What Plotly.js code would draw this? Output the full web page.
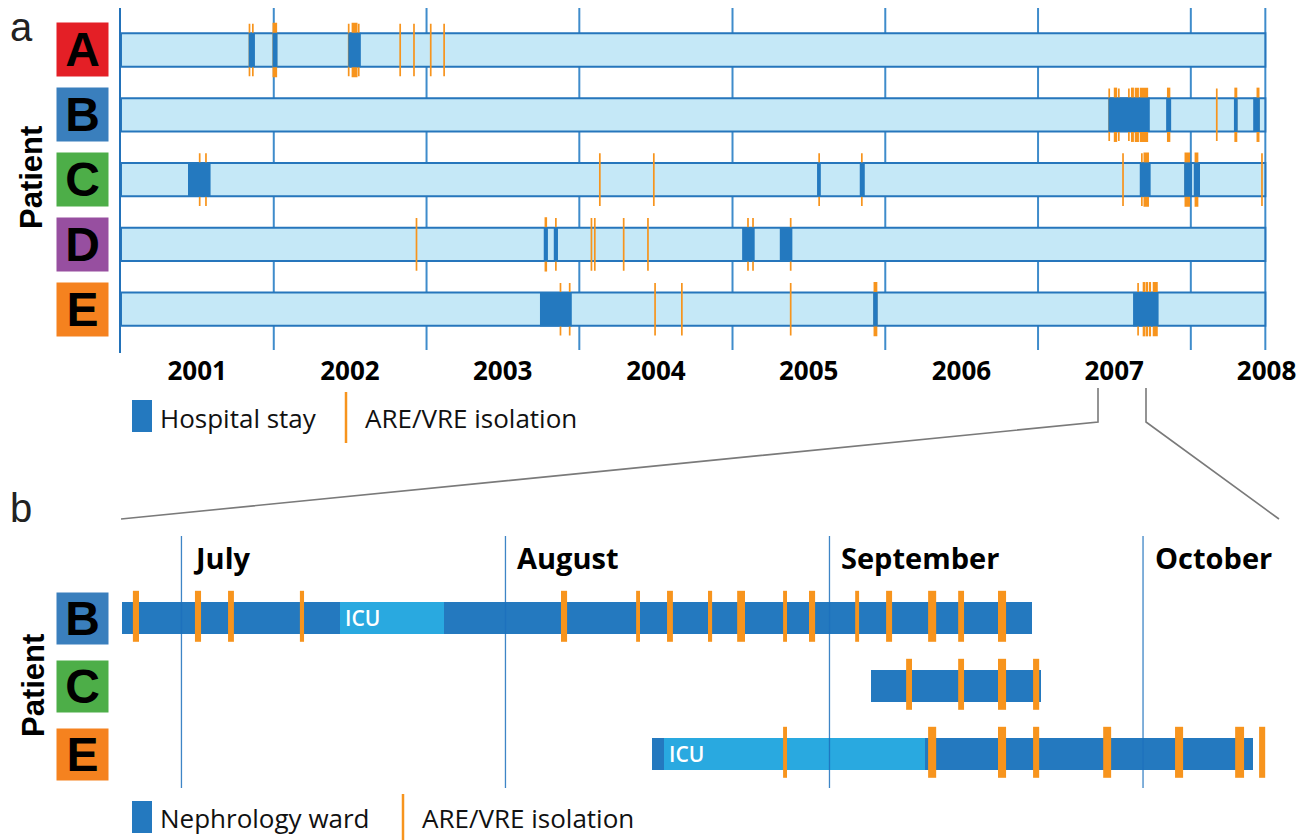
<!DOCTYPE html>
<html>
<head>
<meta charset="utf-8">
<script src="https://cdn.plot.ly/plotly-3.0.1.min.js"></script>
<style>
html,body{margin:0;padding:0;background:#ffffff;}
#chart{width:1306px;height:840px;}
</style>
</head>
<body>
<div id="chart"></div>
<script>
// ================= DATA: panel a (whole follow-up) =================
const patientsA = ['A', 'B', 'C', 'D', 'E'];
const followStart = '2001-01-01';
const followEnd = '2008-06-27';
const yearTickDates = ['2001-07-02', '2002-07-02', '2003-07-02', '2004-07-02', '2005-07-02', '2006-07-02', '2007-07-02', '2008-06-30'];
const yearTickText = ['2001', '2002', '2003', '2004', '2005', '2006', '2007', '2008'];
const yearStarts = ['2002-01-01', '2003-01-01', '2004-01-01', '2005-01-01', '2006-01-01', '2007-01-01', '2008-01-01'];

// hospital stays
const stayPatient = ['A', 'A', 'A',
  'B', 'B', 'B', 'B',
  'C', 'C', 'C', 'C', 'C', 'C',
  'D', 'D', 'D', 'D',
  'E', 'E', 'E'];
const stayStart = ['2001-11-02', '2001-12-29', '2002-06-28',
  '2007-06-18', '2007-11-03', '2008-04-13', '2008-05-29',
  '2001-06-10', '2005-07-22', '2005-11-01', '2007-09-01', '2007-12-16', '2008-01-08',
  '2003-10-08', '2003-11-01', '2005-01-24', '2005-04-24',
  '2003-09-29', '2005-12-03', '2007-08-16'];
const stayEnd = ['2001-11-17', '2002-01-10', '2002-07-28',
  '2007-09-25', '2007-11-15', '2008-04-22', '2008-06-14',
  '2001-08-03', '2005-07-31', '2005-11-13', '2007-09-27', '2008-01-04', '2008-01-23',
  '2003-10-18', '2003-11-11', '2005-02-23', '2005-05-24',
  '2003-12-14', '2005-12-14', '2007-10-16'];

// ARE/VRE isolation periods
const isoPatient = ['A', 'A', 'A', 'A', 'A', 'A', 'A', 'A', 'A', 'A',
  'B', 'B', 'B', 'B', 'B', 'B', 'B', 'B', 'B', 'B', 'B',
  'C', 'C', 'C', 'C', 'C', 'C', 'C', 'C', 'C', 'C', 'C', 'C',
  'D', 'D', 'D', 'D', 'D', 'D', 'D', 'D', 'D', 'D',
  'E', 'E', 'E', 'E', 'E', 'E', 'E', 'E', 'E', 'E', 'E'];
const isoStart = ['2001-11-04', '2001-11-12', '2001-12-31', '2002-06-29', '2002-07-08', '2002-07-23', '2002-10-30', '2002-12-02', '2003-01-11', '2003-02-12',
  '2007-06-20', '2007-07-03', '2007-07-13', '2007-08-06', '2007-08-13', '2007-08-22', '2007-09-03', '2007-11-07', '2008-03-03', '2008-04-16', '2008-06-08',
  '2001-07-08', '2001-07-23', '2004-02-19', '2004-06-27', '2005-07-27', '2005-11-06', '2007-07-23', '2007-09-06', '2007-09-12', '2007-12-19', '2008-01-12', '2008-06-19',
  '2002-12-08', '2003-10-12', '2003-11-06', '2004-01-30', '2004-02-07', '2004-04-16', '2004-06-13', '2005-02-07', '2005-02-19', '2005-05-20',
  '2003-11-17', '2003-12-09', '2004-06-30', '2004-09-02', '2005-05-20', '2005-12-06', '2007-08-28', '2007-09-10', '2007-09-17', '2007-09-25', '2007-10-04'];
const isoEnd = ['2001-11-04', '2001-11-12', '2002-01-07', '2002-06-29', '2002-07-18', '2002-07-23', '2002-10-30', '2002-12-02', '2003-01-11', '2003-02-12',
  '2007-06-20', '2007-07-07', '2007-07-13', '2007-08-06', '2007-08-16', '2007-08-28', '2007-09-19', '2007-11-11', '2008-03-03', '2008-04-19', '2008-06-11',
  '2001-07-08', '2001-07-23', '2004-02-19', '2004-06-27', '2005-07-27', '2005-11-06', '2007-07-23', '2007-09-06', '2007-09-21', '2007-12-28', '2008-01-17', '2008-06-19',
  '2002-12-08', '2003-10-14', '2003-11-06', '2004-01-30', '2004-02-07', '2004-04-16', '2004-06-13', '2005-02-07', '2005-02-19', '2005-05-20',
  '2003-11-17', '2003-12-09', '2004-06-30', '2004-09-02', '2005-05-20', '2005-12-11', '2007-08-28', '2007-09-12', '2007-09-19', '2007-09-26', '2007-10-12'];

// ================= DATA: panel b (summer / autumn 2007) =================
const patientsB = ['B', 'C', 'E'];
const rangeB = ['2007-06-25 07:30', '2007-10-14 02:30'];
const monthNames = ['July', 'August', 'September', 'October'];
const monthStarts = ['2007-07-01', '2007-08-01', '2007-09-01', '2007-10-01'];

const wardPatient = ['B', 'C', 'E'];
const wardStart = ['2007-06-20 00:00', '2007-09-05 00:00', '2007-08-15 00:00'];
const wardEnd = ['2007-09-20 09:00', '2007-09-21 06:00', '2007-10-11 12:00'];

const icuPatient = ['B', 'E'];
const icuStart = ['2007-07-16 04:00', '2007-08-16 04:00'];
const icuEnd = ['2007-07-26 03:00', '2007-09-10 03:30'];

const isoBPatient = ['B', 'B', 'B', 'B', 'B', 'B', 'B', 'B', 'B', 'B', 'B', 'B', 'B', 'B', 'B', 'B',
  'C', 'C', 'C', 'C',
  'E', 'E', 'E', 'E', 'E', 'E', 'E', 'E'];
const isoBStart = ['2007-06-26 08:30', '2007-07-02 07:00', '2007-07-05 11:00', '2007-07-12 08:00', '2007-08-06 07:30', '2007-08-13 12:00', '2007-08-16 11:00', '2007-08-20 09:00', '2007-08-23 04:00', '2007-08-27 13:30', '2007-08-30 01:00', '2007-09-03 11:00', '2007-09-06 10:00', '2007-09-10 10:30', '2007-09-13 07:30', '2007-09-17 03:00',
  '2007-09-08 08:00', '2007-09-13 07:30', '2007-09-17 03:00', '2007-09-20 11:30',
  '2007-08-27 13:30', '2007-09-10 10:30', '2007-09-17 03:00', '2007-09-20 11:30', '2007-09-27 04:30', '2007-10-04 01:30', '2007-10-09 19:30', '2007-10-12 02:30'];
const isoBEnd = ['2007-06-26 22:30', '2007-07-02 21:00', '2007-07-06 00:30', '2007-07-12 17:30', '2007-08-06 21:30', '2007-08-13 21:00', '2007-08-17 00:30', '2007-08-20 18:30', '2007-08-23 22:00', '2007-08-27 22:30', '2007-08-30 15:00', '2007-09-03 20:00', '2007-09-06 23:45', '2007-09-11 05:00', '2007-09-13 21:00', '2007-09-17 21:30',
  '2007-09-08 21:30', '2007-09-13 21:00', '2007-09-17 21:30', '2007-09-21 01:30',
  '2007-08-27 22:30', '2007-09-11 05:00', '2007-09-17 21:30', '2007-09-21 01:30', '2007-09-27 22:45', '2007-10-04 20:00', '2007-10-10 16:00', '2007-10-12 16:30'];

// ================= STYLE =================
const W = 1306, H = 840;
const px = v => v / W;
const py = v => 1 - v / H;
const boxColor = {A: '#e41f26', B: '#3a7fbd', C: '#4dae48', D: '#974fa0', E: '#f5821f'};
const LIGHT = '#c5e8f7', DARK = '#2479bf', ICU = '#29a9e0', ORANGE = '#f7941d', EDGE = '#2676bc';
const FONT = 'Open Sans, Noto Sans, sans-serif';
const ARIAL = 'Liberation Sans, Arial, sans-serif';

const ms = s => Date.parse(s.replace(' ', 'T') + (s.length > 10 ? ':00Z' : 'T00:00:00Z'));
const rowA = p => patientsA.indexOf(p);
const rowB = p => patientsB.indexOf(p);

// ================= TRACES =================
const traces = [];
// panel a: follow-up timelines (light blue bars)
traces.push({
  type: 'bar', orientation: 'h', xaxis: 'x', yaxis: 'y',
  y: patientsA.map((p, i) => i),
  base: patientsA.map(() => followStart),
  x: patientsA.map(() => ms(followEnd) - ms(followStart)),
  width: 0.514,
  marker: {color: LIGHT, line: {color: EDGE, width: 2}},
  hoverinfo: 'skip'
});
// panel b: nephrology ward stays
traces.push({
  type: 'bar', orientation: 'h', xaxis: 'x2', yaxis: 'y2',
  y: wardPatient.map(rowB),
  base: wardStart,
  x: wardStart.map((s, i) => ms(wardEnd[i]) - ms(s)),
  width: 0.485,
  marker: {color: DARK, line: {width: 0}},
  hoverinfo: 'skip'
});
// panel b: ICU stays
traces.push({
  type: 'bar', orientation: 'h', xaxis: 'x2', yaxis: 'y2',
  y: icuPatient.map(rowB),
  base: icuStart,
  x: icuStart.map((s, i) => ms(icuEnd[i]) - ms(s)),
  width: 0.485,
  marker: {color: ICU, line: {width: 0}},
  hoverinfo: 'skip'
});

// ================= SHAPES =================
const shapes = [];
// panel a year gridlines (behind bars)
yearStarts.concat([followEnd]).forEach(d => shapes.push({
  type: 'line', layer: 'below', xref: 'x', yref: 'paper',
  x0: d, x1: d, y0: py(350), y1: py(8),
  line: {color: '#3f8ccb', width: 2}
}));
// panel a isolation
isoPatient.forEach((p, i) => shapes.push({
  type: 'rect', layer: 'above', xref: 'x', yref: 'y',
  x0: isoStart[i], x1: isoEnd[i], y0: rowA(p) - 0.406, y1: rowA(p) + 0.406,
  fillcolor: ORANGE, line: {color: ORANGE, width: 1.7}
}));
// panel a hospital stays
stayPatient.forEach((p, i) => shapes.push({
  type: 'rect', layer: 'above', xref: 'x', yref: 'y',
  x0: stayStart[i], x1: stayEnd[i], y0: rowA(p) - 0.266, y1: rowA(p) + 0.266,
  fillcolor: DARK, line: {width: 0}
}));
// panel b month gridlines (over bars)
monthStarts.forEach(d => shapes.push({
  type: 'line', layer: 'above', xref: 'x2', yref: 'paper',
  x0: d, x1: d, y0: py(788), y1: py(536),
  line: {color: 'rgba(28,112,188,0.85)', width: 1.3}
}));
// panel b isolation
isoBPatient.forEach((p, i) => shapes.push({
  type: 'rect', layer: 'above', xref: 'x2', yref: 'y2',
  x0: isoBStart[i], x1: isoBEnd[i], y0: rowB(p) - 0.40, y1: rowB(p) + 0.35,
  fillcolor: ORANGE, line: {width: 0}
}));
// legend swatches
shapes.push({type: 'rect', xref: 'paper', yref: 'paper', x0: px(132), x1: px(152), y0: py(432), y1: py(400), fillcolor: DARK, line: {width: 0}});
shapes.push({type: 'line', xref: 'paper', yref: 'paper', x0: px(346), x1: px(346), y0: py(443), y1: py(392), line: {color: ORANGE, width: 2.5}});
shapes.push({type: 'rect', xref: 'paper', yref: 'paper', x0: px(132), x1: px(152), y0: py(833), y1: py(801), fillcolor: DARK, line: {width: 0}});
shapes.push({type: 'line', xref: 'paper', yref: 'paper', x0: px(403), x1: px(403), y0: py(840), y1: py(794), line: {color: ORANGE, width: 2.5}});
// zoom connectors
shapes.push({type: 'path', xref: 'paper', yref: 'paper',
  path: `M ${px(1098)},${py(388)} L ${px(1098)},${py(422)} L ${px(121)},${py(519)}`,
  line: {color: '#7a7a7a', width: 1.6}});
shapes.push({type: 'path', xref: 'paper', yref: 'paper',
  path: `M ${px(1146)},${py(388)} L ${px(1146)},${py(422)} L ${px(1279)},${py(519)}`,
  line: {color: '#7a7a7a', width: 1.6}});

// ================= ANNOTATIONS =================
const ann = [];
const txt = (text, x, y, opt) => Object.assign({text, x, y, xref: 'paper', yref: 'paper', showarrow: false, xanchor: 'left', yanchor: 'middle'}, opt || {});
ann.push(txt('a', px(8), py(27), {font: {family: ARIAL, size: 40, color: '#222'}}));
ann.push(txt('b', px(8), py(508), {font: {family: ARIAL, size: 40, color: '#222'}}));
ann.push(txt('Patient', px(31), py(178), {xanchor: 'center', textangle: -90, font: {family: ARIAL, size: 31, color: '#000', weight: 'bold'}}));
ann.push(txt('Patient', px(33), py(686), {xanchor: 'center', textangle: -90, font: {family: ARIAL, size: 31, color: '#000', weight: 'bold'}}));
patientsA.forEach((p, i) => ann.push({
  text: p, x: px(82.5), xref: 'paper', y: i, yref: 'y', showarrow: false,
  xanchor: 'center', yanchor: 'middle', width: 51, height: 53, borderpad: 0,
  bgcolor: boxColor[p], font: {family: ARIAL, size: 48, color: '#000', weight: 'bold'}
}));
patientsB.forEach((p, i) => ann.push({
  text: p, x: px(82.5), xref: 'paper', y: i, yref: 'y2', showarrow: false,
  xanchor: 'center', yanchor: 'middle', width: 51, height: 51, borderpad: 0,
  bgcolor: boxColor[p], font: {family: ARIAL, size: 48, color: '#000', weight: 'bold'}
}));
monthNames.forEach((m, i) => ann.push({
  text: m, x: monthStarts[i], xref: 'x2', y: py(557), yref: 'paper', showarrow: false,
  xanchor: 'left', yanchor: 'middle', xshift: 10,
  font: {family: FONT, size: 29, color: '#000', weight: 'bold'}
}));
icuPatient.forEach((p, i) => ann.push({
  text: 'ICU', x: icuStart[i], xref: 'x2', y: rowB(p), yref: 'y2', showarrow: false,
  xanchor: 'left', yanchor: 'middle', xshift: 3,
  font: {family: FONT, size: 21, color: '#ffffff', weight: 600}
}));
ann.push(txt('Hospital stay', px(158), py(418), {font: {family: FONT, size: 26, color: '#111'}}));
ann.push(txt('ARE/VRE isolation', px(363), py(418), {font: {family: FONT, size: 26, color: '#111'}}));
ann.push(txt('Nephrology ward', px(158), py(818), {font: {family: FONT, size: 26, color: '#111'}}));
ann.push(txt('ARE/VRE isolation', px(420), py(818), {font: {family: FONT, size: 26, color: '#111'}}));

// ================= LAYOUT =================
const layout = {
  width: W, height: H,
  margin: {l: 0, r: 0, t: 0, b: 0, pad: 0},
  paper_bgcolor: '#ffffff', plot_bgcolor: 'rgba(0,0,0,0)',
  showlegend: false, barmode: 'overlay', bargap: 0,
  xaxis: {
    type: 'date', range: [followStart, '2008-07-01'], domain: [px(121), px(1267)], anchor: 'y',
    tickmode: 'array', tickvals: yearTickDates, ticktext: yearTickText,
    ticks: '', showgrid: false, zeroline: false, showline: false, fixedrange: true,
    tickfont: {family: FONT, size: 26, color: '#000', weight: 'bold'}
  },
  yaxis: {
    range: [4.676, -0.648], domain: [py(353), py(8)], anchor: 'x',
    showticklabels: false, showgrid: false, zeroline: false, ticks: '',
    showline: true, linecolor: '#2372b9', linewidth: 2, fixedrange: true
  },
  xaxis2: {
    type: 'date', range: rangeB, domain: [px(122), px(1280)], anchor: 'y2',
    showticklabels: false, showgrid: false, zeroline: false, showline: false, ticks: '', fixedrange: true
  },
  yaxis2: {
    range: [2.5, -1.206], domain: [py(788), py(536)], anchor: 'x2',
    visible: false, fixedrange: true
  },
  shapes: shapes,
  annotations: ann
};

Plotly.newPlot('chart', traces, layout, {displayModeBar: false, staticPlot: true});
</script>
</body>
</html>
